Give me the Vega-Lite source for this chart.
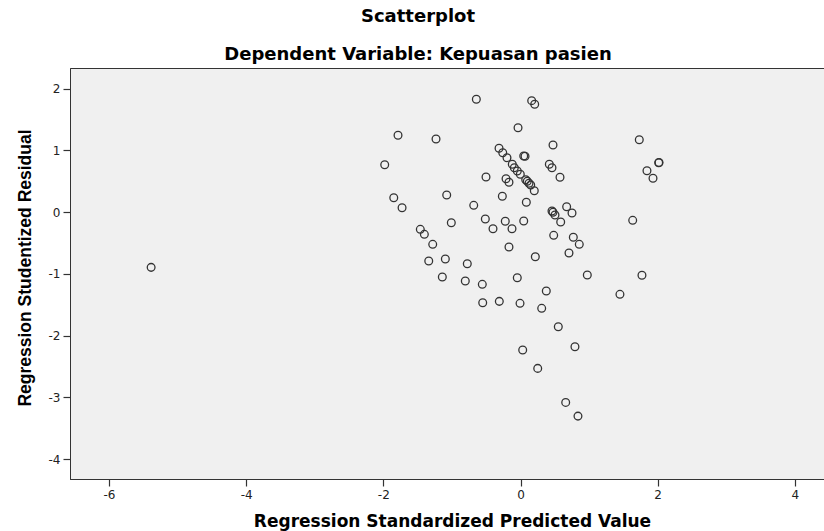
{
  "$schema": "https://vega.github.io/schema/vega-lite/v6.json",
  "width": 755,
  "height": 411,
  "autosize": {"type": "none"},
  "padding": {"left": 70, "top": 68, "right": 0, "bottom": 52},
  "background": "#ffffff",
  "title": {
    "text": "Scatterplot",
    "subtitle": "Dependent Variable: Kepuasan pasien",
    "anchor": "middle",
    "frame": "group",
    "dx": -29.5,
    "offset": 4,
    "font": "DejaVu Sans",
    "fontSize": 18,
    "fontWeight": "bold",
    "color": "#000000",
    "subtitleFont": "DejaVu Sans",
    "subtitleFontSize": 18,
    "subtitleFontWeight": "bold",
    "subtitleColor": "#000000",
    "subtitlePadding": 20
  },
  "config": {
    "view": {"fill": "#f0f0f0", "stroke": "#333333", "strokeWidth": 1},
    "axis": {
      "grid": false,
      "domainColor": "#333333",
      "domainWidth": 1,
      "tickColor": "#333333",
      "tickSize": 7,
      "tickWidth": 1.2,
      "labelFont": "DejaVu Sans",
      "labelFontSize": 12,
      "labelColor": "#222222",
      "titleColor": "#000000",
      "titleFontWeight": "bold"
    }
  },
  "data": {
    "values": [
      {"pred": -5.386, "resid": -0.895},
      {"pred": -1.98, "resid": 0.768},
      {"pred": -1.786, "resid": 1.245},
      {"pred": -1.232, "resid": 1.185},
      {"pred": -1.848, "resid": 0.233},
      {"pred": -1.727, "resid": 0.071},
      {"pred": -1.461, "resid": -0.279},
      {"pred": -1.402, "resid": -0.36},
      {"pred": -1.28, "resid": -0.522},
      {"pred": -1.338, "resid": -0.793},
      {"pred": -1.096, "resid": -0.76},
      {"pred": -1.14, "resid": -1.052},
      {"pred": -0.805, "resid": -1.117},
      {"pred": -1.076, "resid": 0.277},
      {"pred": -1.009, "resid": -0.172},
      {"pred": -0.776, "resid": -0.836},
      {"pred": -0.644, "resid": 1.828},
      {"pred": -0.682, "resid": 0.11},
      {"pred": -0.513, "resid": -0.112},
      {"pred": -0.503, "resid": 0.569},
      {"pred": -0.557, "resid": -1.17},
      {"pred": -0.551, "resid": -1.468},
      {"pred": -0.309, "resid": -1.446},
      {"pred": -0.401, "resid": -0.269},
      {"pred": -0.265, "resid": 0.256},
      {"pred": -0.222, "resid": -0.149},
      {"pred": -0.124, "resid": -0.269},
      {"pred": -0.168, "resid": -0.566},
      {"pred": -0.313, "resid": 1.034},
      {"pred": -0.259, "resid": 0.963},
      {"pred": -0.197, "resid": 0.882},
      {"pred": -0.12, "resid": 0.775},
      {"pred": -0.09, "resid": 0.72},
      {"pred": -0.047, "resid": 0.666},
      {"pred": -0.003, "resid": 0.613},
      {"pred": -0.211, "resid": 0.541},
      {"pred": -0.168, "resid": 0.483},
      {"pred": 0.076, "resid": 0.525},
      {"pred": 0.099, "resid": 0.499},
      {"pred": 0.124, "resid": 0.467},
      {"pred": 0.149, "resid": 0.439},
      {"pred": 0.201, "resid": 0.347},
      {"pred": -0.036, "resid": 1.368},
      {"pred": 0.163, "resid": 1.806},
      {"pred": 0.207, "resid": 1.747},
      {"pred": 0.047, "resid": 0.909},
      {"pred": 0.066, "resid": 0.904},
      {"pred": 0.085, "resid": 0.159},
      {"pred": 0.047, "resid": -0.144},
      {"pred": -0.047, "resid": -1.063},
      {"pred": -0.007, "resid": -1.478},
      {"pred": 0.216, "resid": -0.723},
      {"pred": 0.309, "resid": -1.559},
      {"pred": 0.376, "resid": -1.279},
      {"pred": 0.032, "resid": -2.235},
      {"pred": 0.251, "resid": -2.532},
      {"pred": 0.474, "resid": 1.088},
      {"pred": 0.42, "resid": 0.775},
      {"pred": 0.459, "resid": 0.72},
      {"pred": 0.576, "resid": 0.564},
      {"pred": 0.459, "resid": 0.018},
      {"pred": 0.474, "resid": -0.003},
      {"pred": 0.503, "resid": -0.047},
      {"pred": 0.673, "resid": 0.088},
      {"pred": 0.751, "resid": -0.015},
      {"pred": 0.586, "resid": -0.16},
      {"pred": 0.484, "resid": -0.376},
      {"pred": 0.77, "resid": -0.408},
      {"pred": 0.857, "resid": -0.522},
      {"pred": 0.707, "resid": -0.663},
      {"pred": 0.974, "resid": -1.019},
      {"pred": 0.551, "resid": -1.857},
      {"pred": 0.794, "resid": -2.182},
      {"pred": 0.659, "resid": -3.083},
      {"pred": 0.838, "resid": -3.305},
      {"pred": 1.45, "resid": -1.332},
      {"pred": 1.636, "resid": -0.133},
      {"pred": 1.771, "resid": -1.024},
      {"pred": 1.732, "resid": 1.173},
      {"pred": 2.015, "resid": 0.801},
      {"pred": 2.02, "resid": 0.803},
      {"pred": 1.844, "resid": 0.671},
      {"pred": 1.932, "resid": 0.548}
    ]
  },
  "mark": {"type": "point", "shape": "circle", "filled": false, "size": 60, "stroke": "#333333", "strokeWidth": 1.3, "opacity": 1},
  "encoding": {
    "x": {
      "field": "pred",
      "type": "quantitative",
      "scale": {"domain": [-6.569, 4.44], "nice": false, "zero": false},
      "axis": {
        "title": "Regression Standardized Predicted Value",
        "values": [-6, -4, -2, 0, 2, 4],
        "labelExpr": "datum.value < 0 ? '-' + abs(datum.value) : '' + datum.value",
        "labelPadding": 3,
        "titleFont": "DejaVu Sans",
        "titleFontSize": 17,
        "titleX": 382,
        "titleY": 42,
        "titleBaseline": "middle"
      }
    },
    "y": {
      "field": "resid",
      "type": "quantitative",
      "scale": {"domain": [-4.324, 2.335], "nice": false, "zero": false},
      "axis": {
        "title": "Regression Studentized Residual",
        "values": [-4, -3, -2, -1, 0, 1, 2],
        "labelExpr": "datum.value < 0 ? '-' + abs(datum.value) : '' + datum.value",
        "labelPadding": 3,
        "titleFont": "Liberation Sans",
        "titleFontSize": 17.5,
        "titleX": -45,
        "titleY": 199.5,
        "titleBaseline": "middle",
        "titleAngle": -90
      }
    }
  }
}
